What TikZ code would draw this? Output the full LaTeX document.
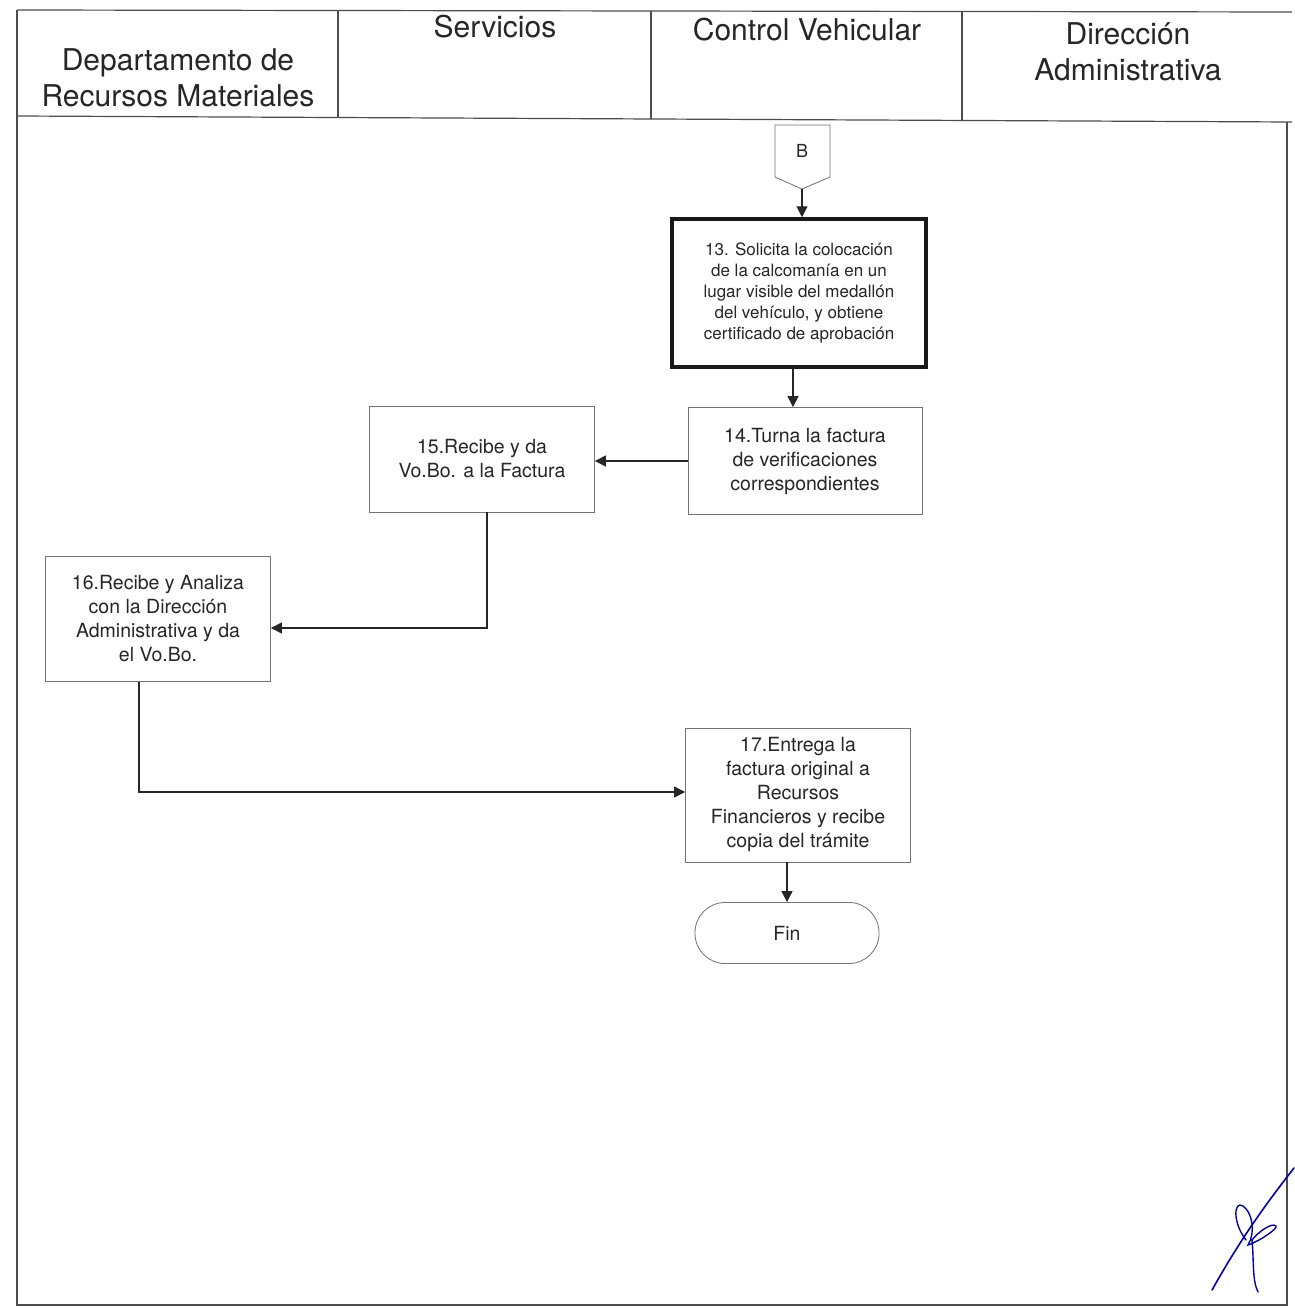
\documentclass[tikz,border=0pt]{standalone}
\usepackage{fontspec}
\setmainfont{TeX Gyre Heros}
\usetikzlibrary{arrows.meta,shapes.geometric}
\begin{document}
\begin{tikzpicture}[x=1pt,y=-1pt,
  frame/.style={draw=black!70,line width=1.2pt},
  procbox/.style={draw=black!55,line width=0.8pt,fill=white,text=black!85,align=center,inner sep=0pt,font=\fontsize{19.5}{24}\selectfont},
  flow/.style={draw=black!85,line width=1.1pt,-{Triangle[length=11pt,width=11pt]}},
  head/.style={text=black!85,align=center,font=\fontsize{30}{36}\selectfont}]
\useasboundingbox (0,0) rectangle (1294,1308);
\fill[white] (0,0) rectangle (1294,1308);
% frame
\draw[frame] (17,10) -- (1292,12);
\draw[frame] (17,116) -- (1292,122);
\draw[frame] (17,10) -- (17,1305) -- (1287,1305) -- (1287,122);
\draw[frame] (338,10) -- (338,117);
\draw[frame] (651,11) -- (651,119);
\draw[frame] (962,11) -- (962,121);
% headers
\node[head] (h1) at (178,78) {Departamento de\\Recursos Materiales};
\node[head] (h2) at (495,27) {Servicios};
\node[head] (h3) at (807,30) {Control Vehicular};
\node[head] (h4) at (1128,52) {Dirección\\Administrativa};
% B connector
\draw[draw=black!55,line width=0.8pt,fill=white] (775,125) -- (830,125) -- (830,177) -- (802,189) -- (775,177) -- cycle;
\node[text=black!85,font=\fontsize{18}{22}\selectfont] (B) at (802,151) {B};
\coordinate (Bb) at (802,189);
% boxes
\node[procbox,draw=black!90,line width=3.5pt,minimum width=254pt,minimum height=148pt,font=\fontsize{17}{20.8}\selectfont] (n13) at (799,293) {13. Solicita la colocación\\de la calcomanía en un\\lugar visible del medallón\\del vehículo, y obtiene\\certificado de aprobación};
\node[procbox,minimum width=234pt,minimum height=107pt] (n14) at (805,461) {14.Turna la factura\\de verificaciones\\correspondientes};
\node[procbox,minimum width=225pt,minimum height=106pt] (n15) at (482,459) {15.Recibe y da\\Vo.Bo. a la Factura};
\node[procbox,minimum width=225pt,minimum height=125pt] (n16) at (158,619) {16.Recibe y Analiza\\con la Dirección\\Administrativa y da\\el Vo.Bo.};
\node[procbox,minimum width=225pt,minimum height=134pt] (n17) at (798,795) {17.Entrega la\\factura original a\\Recursos\\Financieros y recibe\\copia del trámite};
\node[procbox,rounded corners=30pt,minimum width=184pt,minimum height=61pt] (fin) at (787,933) {Fin};
% connectors
\draw[flow] (Bb) -- (n13.north -| Bb);
\draw[flow] (n13.south -| 793,0) -- (n14.north -| 793,0);
\draw[flow] (n14.west) -- (n15.east |- n14.west);
\draw[flow] (n15.south -| 487,0) -- (487,628) -- (n16.east |- 0,628);
\draw[flow] (n16.south -| 139,0) -- (139,792) -- (n17.west |- 0,792);
\draw[flow] (n17.south -| fin.north) -- (fin.north);
% signature
\draw[blue!70!black,line width=1.6pt,line cap=round] (1212,1290) .. controls (1240,1240) and (1265,1205) .. (1294,1168);
\draw[blue!70!black,line width=1.4pt,line cap=round] (1246,1240) .. controls (1232,1222) and (1234,1200) .. (1243,1206) .. controls (1252,1212) and (1256,1232) .. (1248,1245) .. controls (1262,1240) and (1278,1228) .. (1276,1226) .. controls (1272,1222) and (1258,1232) .. (1252,1240) .. controls (1254,1260) and (1252,1280) .. (1258,1292);
\end{tikzpicture}
\end{document}
